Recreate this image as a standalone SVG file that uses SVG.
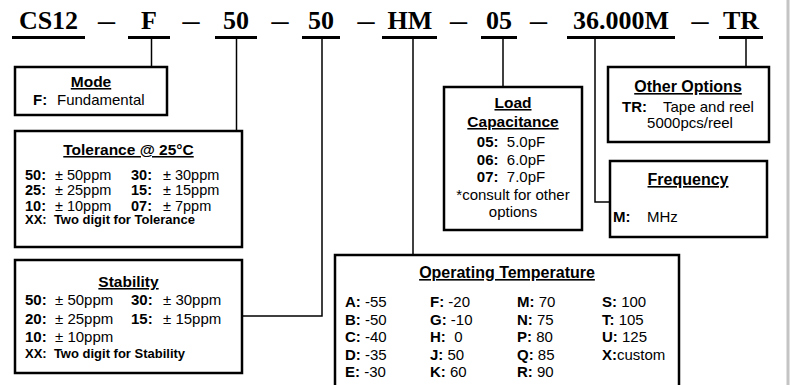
<svg xmlns="http://www.w3.org/2000/svg" width="791" height="385" viewBox="0 0 791 385">
<style>
.hdr{font-family:"Liberation Serif","Times New Roman",serif;font-weight:bold;font-size:26px;fill:#000;text-anchor:middle}
.ul{stroke:#000;stroke-width:3}
.box{fill:#fff;stroke:#000;stroke-width:2.5}
.conn{stroke:#000;stroke-width:1.5;fill:none}
.t{font-family:"Liberation Sans",Arial,sans-serif;font-size:15px;fill:#000}
.r{font-size:14.5px}
.b{font-weight:bold}
.ttl{font-weight:bold;text-decoration:underline;font-size:15.5px}
.big{font-size:16px}
.mid{text-anchor:middle}
.sm{font-size:13px;font-weight:bold}
</style>
<rect x="0" y="0" width="791" height="385" fill="#fff"/>
<rect x="786.5" y="0" width="3" height="385" fill="#c4c4c4"/>

<g id="header">
<text class="hdr" x="48.5" y="29">CS12</text>
<text class="hdr" x="149" y="29">F</text>
<text class="hdr" x="236" y="29">50</text>
<text class="hdr" x="321" y="29">50</text>
<text class="hdr" x="410" y="29">HM</text>
<text class="hdr" x="499" y="29">05</text>
<text class="hdr" x="621" y="29">36.000M</text>
<text class="hdr" x="741" y="29">TR</text>
<text class="hdr" x="106.5" y="29" textLength="17" lengthAdjust="spacingAndGlyphs">–</text>
<text class="hdr" x="191" y="29" textLength="17" lengthAdjust="spacingAndGlyphs">–</text>
<text class="hdr" x="280" y="29" textLength="17" lengthAdjust="spacingAndGlyphs">–</text>
<text class="hdr" x="366" y="29" textLength="17" lengthAdjust="spacingAndGlyphs">–</text>
<text class="hdr" x="458.5" y="29" textLength="17" lengthAdjust="spacingAndGlyphs">–</text>
<text class="hdr" x="538.5" y="29" textLength="17" lengthAdjust="spacingAndGlyphs">–</text>
<text class="hdr" x="700" y="29" textLength="17" lengthAdjust="spacingAndGlyphs">–</text>
<line class="ul" x1="12" y1="37.5" x2="85" y2="37.5"/>
<line class="ul" x1="128" y1="37.5" x2="170" y2="37.5"/>
<line class="ul" x1="215" y1="37.5" x2="257" y2="37.5"/>
<line class="ul" x1="302" y1="37.5" x2="340" y2="37.5"/>
<line class="ul" x1="382" y1="37.5" x2="437" y2="37.5"/>
<line class="ul" x1="481" y1="37.5" x2="517" y2="37.5"/>
<line class="ul" x1="567" y1="37.5" x2="675" y2="37.5"/>
<line class="ul" x1="719" y1="37.5" x2="763" y2="37.5"/>
</g>

<g id="connectors">
<polyline class="conn" points="151.5,38 151.5,67"/>
<polyline class="conn" points="236.5,38 236.5,131"/>
<polyline class="conn" points="322,38 322,316 242,316"/>
<polyline class="conn" points="413,38 413,255"/>
<polyline class="conn" points="503,38 503,87"/>
<polyline class="conn" points="595,38 595,202 610,202"/>
<polyline class="conn" points="746,38 746,67"/>
</g>

<g id="mode">
<rect class="box" x="15" y="67" width="152" height="48"/>
<text class="t ttl mid" x="91" y="87">Mode</text>
<text class="t" x="33" y="105"><tspan class="b">F:</tspan><tspan x="57">Fundamental</tspan></text>
</g>

<g id="tolerance">
<rect class="box" x="15" y="131" width="227" height="116"/>
<text class="t ttl mid" x="128.5" y="155">Tolerance @ 25°C</text>
<g class="t r">
<text x="25" y="179.5"><tspan class="b">50:</tspan><tspan x="55">± 50ppm</tspan><tspan class="b" x="131">30:</tspan><tspan x="163">± 30ppm</tspan></text>
<text x="25" y="195"><tspan class="b">25:</tspan><tspan x="55">± 25ppm</tspan><tspan class="b" x="131">15:</tspan><tspan x="163">± 15ppm</tspan></text>
<text x="25" y="210.5"><tspan class="b">10:</tspan><tspan x="55">± 10ppm</tspan><tspan class="b" x="131">07:</tspan><tspan x="163">± 7ppm</tspan></text>
</g>
<text class="t sm" x="25" y="224" xml:space="preserve">XX:  Two digit for Tolerance</text>
</g>

<g id="stability">
<rect class="box" x="15" y="260" width="227" height="113"/>
<text class="t ttl mid" x="128.5" y="287">Stability</text>
<text class="t" x="25" y="305"><tspan class="b">50:</tspan><tspan x="55">± 50ppm</tspan><tspan class="b" x="131">30:</tspan><tspan x="163">± 30ppm</tspan></text>
<text class="t" x="25" y="323.5"><tspan class="b">20:</tspan><tspan x="55">± 25ppm</tspan><tspan class="b" x="131">15:</tspan><tspan x="163">± 15ppm</tspan></text>
<text class="t" x="25" y="341.5"><tspan class="b">10:</tspan><tspan x="55">± 10ppm</tspan></text>
<text class="t sm" x="25" y="357.5" xml:space="preserve">XX:  Two digit for Stability</text>
</g>

<g id="load">
<rect class="box" x="444" y="87" width="138" height="143"/>
<text class="t ttl mid" x="513" y="108">Load</text>
<text class="t ttl mid" x="513" y="127">Capacitance</text>
<text class="t mid" x="511" y="147" xml:space="preserve"><tspan class="b">05:</tspan>  5.0pF</text>
<text class="t mid" x="511" y="164.5" xml:space="preserve"><tspan class="b">06:</tspan>  6.0pF</text>
<text class="t mid" x="511" y="182" xml:space="preserve"><tspan class="b">07:</tspan>  7.0pF</text>
<text class="t mid" x="513" y="199.5">*consult for other</text>
<text class="t mid" x="513" y="217">options</text>
</g>

<g id="other">
<rect class="box" x="608" y="67" width="161" height="75"/>
<text class="t ttl big mid" x="688" y="92">Other Options</text>
<text class="t" x="622" y="112"><tspan class="b">TR:</tspan><tspan x="663">Tape and reel</tspan></text>
<text class="t mid" x="690" y="128">5000pcs/reel</text>
</g>

<g id="frequency">
<rect class="box" x="610" y="161" width="157" height="76"/>
<text class="t ttl big mid" x="688" y="185">Frequency</text>
<text class="t" x="613" y="222"><tspan class="b">M:</tspan><tspan x="647">MHz</tspan></text>
</g>

<g id="optemp">
<rect class="box" x="335" y="255" width="344" height="145"/>
<text class="t ttl big mid" x="507" y="278">Operating Temperature</text>
<g class="t">
<text x="345" y="307"><tspan class="b">A:</tspan> -55</text>
<text x="345" y="324.5"><tspan class="b">B:</tspan> -50</text>
<text x="345" y="342"><tspan class="b">C:</tspan> -40</text>
<text x="345" y="359.5"><tspan class="b">D:</tspan> -35</text>
<text x="345" y="377"><tspan class="b">E:</tspan> -30</text>
<text x="430" y="307"><tspan class="b">F:</tspan> -20</text>
<text x="430" y="324.5"><tspan class="b">G:</tspan> -10</text>
<text x="430" y="342" xml:space="preserve"><tspan class="b">H:</tspan>  0</text>
<text x="430" y="359.5"><tspan class="b">J:</tspan> 50</text>
<text x="430" y="377"><tspan class="b">K:</tspan> 60</text>
<text x="517" y="307"><tspan class="b">M:</tspan> 70</text>
<text x="517" y="324.5"><tspan class="b">N:</tspan> 75</text>
<text x="517" y="342"><tspan class="b">P:</tspan> 80</text>
<text x="517" y="359.5"><tspan class="b">Q:</tspan> 85</text>
<text x="517" y="377"><tspan class="b">R:</tspan> 90</text>
<text x="602" y="307"><tspan class="b">S:</tspan> 100</text>
<text x="602" y="324.5"><tspan class="b">T:</tspan> 105</text>
<text x="602" y="342"><tspan class="b">U:</tspan> 125</text>
<text x="602" y="359.5"><tspan class="b">X:</tspan>custom</text>
</g>
</g>
</svg>
